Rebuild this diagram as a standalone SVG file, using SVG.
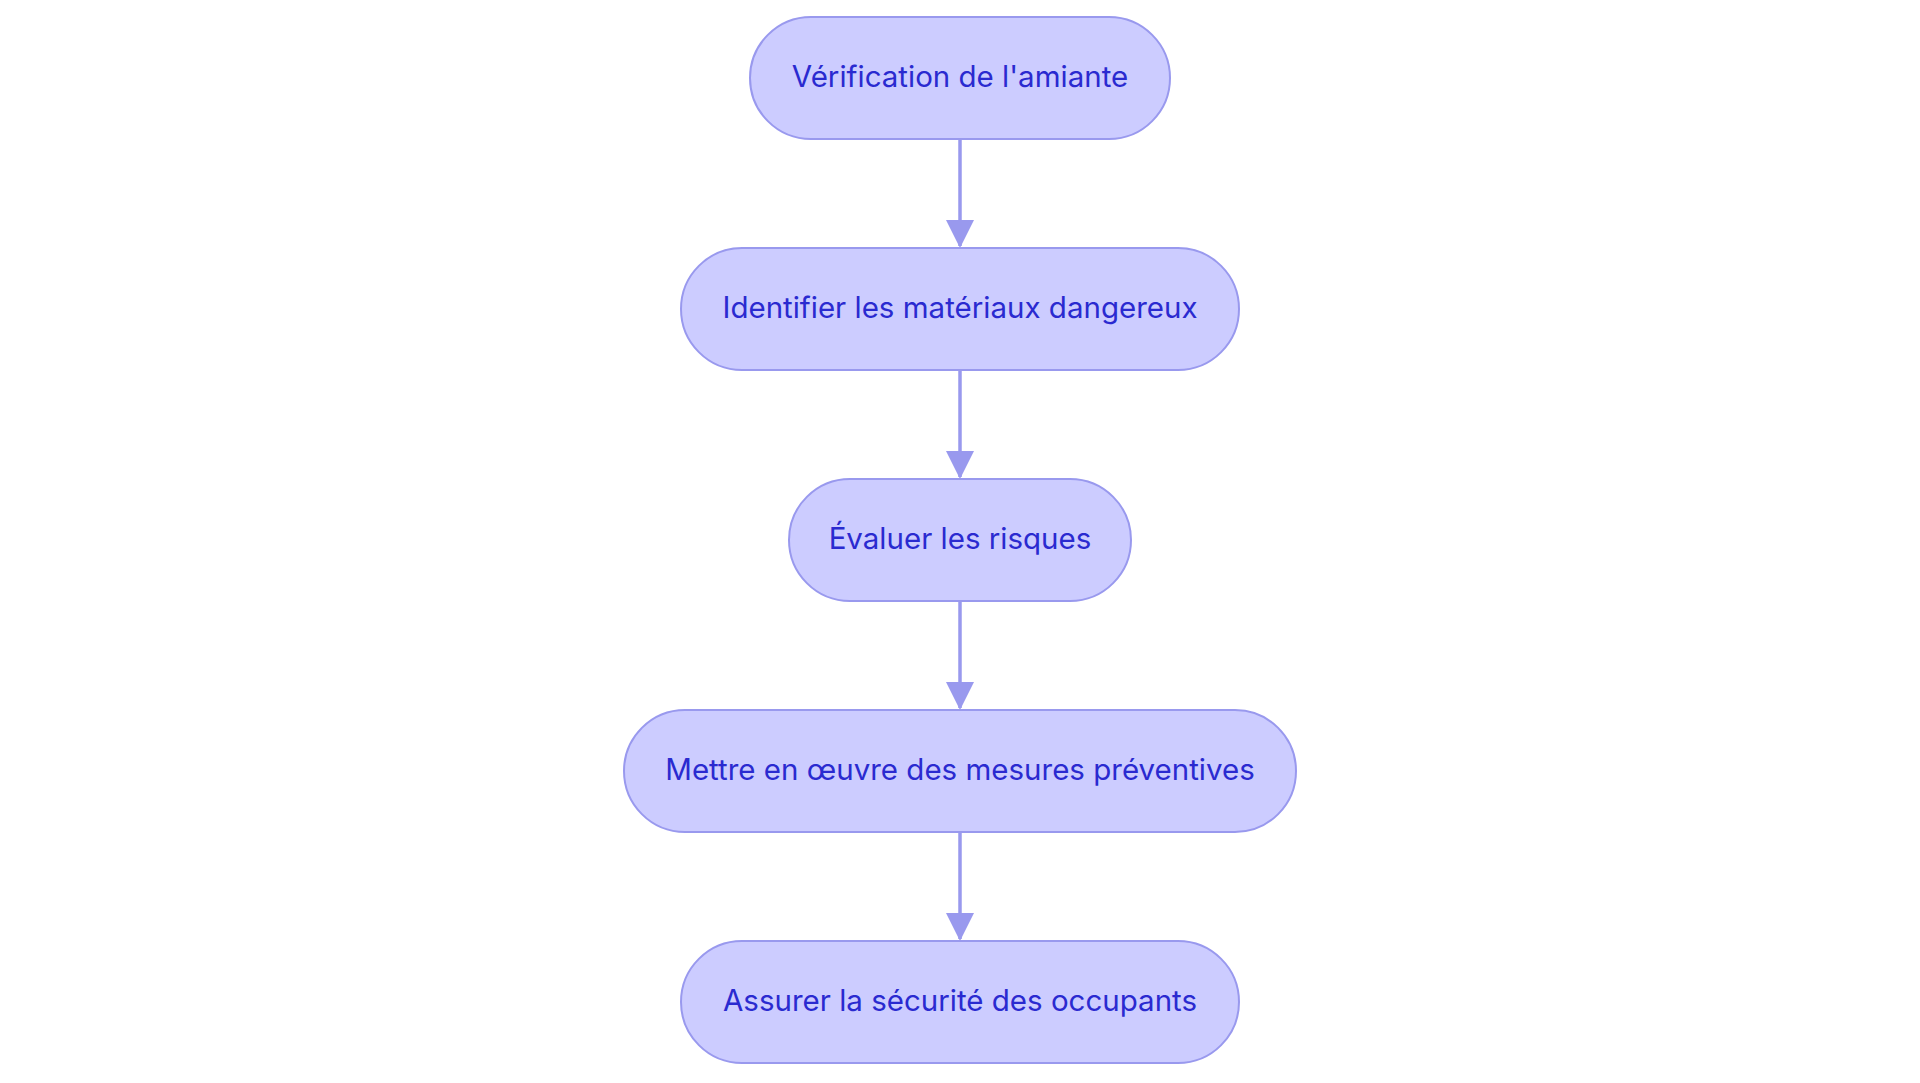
<svg xmlns="http://www.w3.org/2000/svg" width="1920" height="1083" viewBox="0 0 1920 1083">
<style>
.n rect{fill:#ccccff;stroke:#9999ee;stroke-width:2}
.n text{font-family:Inter,"Noto Sans",sans-serif;font-size:29.5px;fill:#2a2ad0;text-anchor:middle;dominant-baseline:central}
.c line{stroke:#9999ee;stroke-width:3.5;marker-end:url(#b)}
</style>
<defs><marker id="b" markerWidth="28" markerHeight="28" refX="26" refY="14" orient="auto" markerUnits="userSpaceOnUse" viewBox="0 0 28 28"><path d="M0,0L28,14L0,28z" fill="#9999ee"/></marker></defs>
<rect width="1920" height="1083" fill="#fff"/>
<g class="c">
<line x1="960" y1="139" x2="960" y2="246"/>
<line x1="960" y1="370" x2="960" y2="477"/>
<line x1="960" y1="601" x2="960" y2="708"/>
<line x1="960" y1="832" x2="960" y2="939"/>
</g>
<g class="n" id="n1"><rect x="750" y="17" width="420" height="122" rx="61"/><text x="960" y="76">Vérification de l'amiante</text></g>
<g class="n" id="n2"><rect x="681" y="248" width="558" height="122" rx="61"/><text x="960" y="307">Identifier les matériaux dangereux</text></g>
<g class="n" id="n3"><rect x="789" y="479" width="342" height="122" rx="61"/><text x="960" y="538">Évaluer les risques</text></g>
<g class="n" id="n4"><rect x="624" y="710" width="672" height="122" rx="61"/><text x="960" y="769">Mettre en œuvre des mesures préventives</text></g>
<g class="n" id="n5"><rect x="681" y="941" width="558" height="122" rx="61"/><text x="960" y="1000">Assurer la sécurité des occupants</text></g>
</svg>
